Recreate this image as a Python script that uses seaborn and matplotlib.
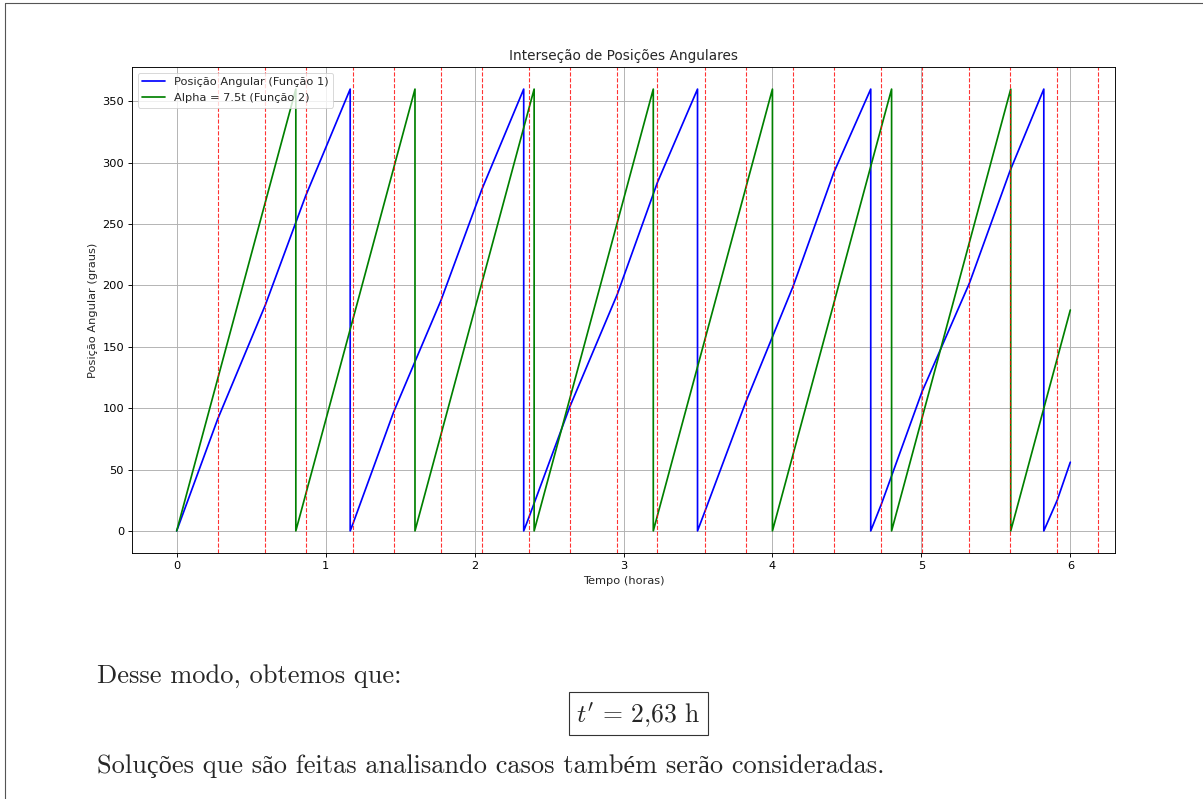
import pandas as pd
import matplotlib.pyplot as plt
import seaborn as sns
from matplotlib.lines import Line2D
from matplotlib.patches import Rectangle

# vértices (tempo em horas, posição em graus)
t_func1 = [0.0, 0.275, 0.595, 0.866, 1.165, 1.165, 1.184, 1.457, 1.775, 2.048, 2.330,
           2.330, 2.368, 2.639, 2.959, 3.228, 3.497, 3.497, 3.550, 3.821, 4.141, 4.412,
           4.660, 4.660, 4.732, 5.003, 5.323, 5.594, 5.822, 5.822, 5.912, 6.0]
y_func1 = [0, 91, 184, 273, 360, 0, 6, 97, 188, 278, 360,
           0, 12, 101, 193, 284, 360, 0, 17, 105, 200, 292,
           360, 0, 22, 113, 202, 293, 360, 0, 25, 56]

t_func2 = [0.0, 0.8, 0.8, 1.6, 1.6, 2.4, 2.4, 3.2, 3.2, 4.0, 4.0, 4.8, 4.8, 5.6, 5.6, 6.0]
y_func2 = [0, 360, 0, 360, 0, 360, 0, 360, 0, 360, 0, 360, 0, 360, 0, 180]

# linhas verticais vermelhas
t_inter = [0.275, 0.595, 0.866, 1.184, 1.457, 1.775, 2.048, 2.368, 2.639, 2.959, 3.228,
           3.550, 3.821, 4.141, 4.412, 4.732, 5.003, 5.323, 5.594, 5.912, 6.187]

label1 = 'Posição Angular (Função 1)'
label2 = 'Alpha = 7.5t (Função 2)'

df1 = pd.DataFrame({'t': t_func1, 'pos': y_func1})
df2 = pd.DataFrame({'t': t_func2, 'pos': y_func2})

s = 0.82  # escala da figura original
sns.set_style("ticks")
plt.rcParams['font.family'] = ['DejaVu Sans']
plt.rcParams['axes.edgecolor'] = 'black'
plt.rcParams['axes.linewidth'] = 0.8 * s
plt.rcParams['xtick.major.width'] = 0.8 * s
plt.rcParams['ytick.major.width'] = 0.8 * s
plt.rcParams['xtick.major.size'] = 3.5 * s
plt.rcParams['ytick.major.size'] = 3.5 * s
plt.rcParams['xtick.major.pad'] = 3.5 * s
plt.rcParams['ytick.major.pad'] = 3.5 * s
plt.rcParams['xtick.color'] = 'black'
plt.rcParams['ytick.color'] = 'black'
plt.rcParams['mathtext.fontset'] = 'cm'

W, H = 1203, 799
fig = plt.figure(figsize=(W / 100, H / 100), dpi=100)
ax = fig.add_axes([132 / W, 1 - 553 / H, (1115 - 132) / W, (553 - 67) / H])

sns.lineplot(data=df1, x='t', y='pos', sort=False, estimator=None, color='blue',
             linewidth=1.5 * s, label=label1, ax=ax)
sns.lineplot(data=df2, x='t', y='pos', sort=False, estimator=None, color='green',
             linewidth=1.5 * s, label=label2, ax=ax)
for t in t_inter:
    ax.axvline(t, color='red', linestyle='--', linewidth=0.8, alpha=0.8)

ax.set_xlim(-0.3, 6.3)
ax.set_ylim(-18, 378)
ax.set_xticks(range(0, 7))
ax.set_yticks(range(0, 351, 50))
ax.tick_params(labelsize=10 * s)
ax.grid(True, color='#b0b0b0', linewidth=0.8 * s)
ax.set_title('Interseção de Posições Angulares', fontsize=12 * s, pad=6 * s)
ax.set_xlabel('Tempo (horas)', fontsize=10 * s, labelpad=4 * s)
ax.set_ylabel('Posição Angular (graus)', fontsize=10 * s, labelpad=4 * s)
leg = ax.legend(loc='upper left', fontsize=10 * s, frameon=True)
leg.get_frame().set_linewidth(0.8 * s)
leg.get_frame().set_edgecolor('#cccccc')

# moldura da página
fig.add_artist(Line2D([5 / W, 5 / W], [0, 1 - 2.5 / H], color='#555555', linewidth=0.8))
fig.add_artist(Line2D([5 / W, 1], [1 - 2.5 / H, 1 - 2.5 / H], color='#555555', linewidth=0.8))

serif = ['cmr10', 'Liberation Serif']
fs = 19
fig.text(97 / W, 1 - 683.3 / H, 'Desse modo, obtemos que:', family=serif, fontsize=fs,
         va='baseline', ha='left')
fig.add_artist(Rectangle((569 / W, 1 - 735 / H), (708 - 569) / W, (735 - 692) / H,
                         transform=fig.transFigure, fill=False, edgecolor='#333333',
                         linewidth=0.8))
fig.text(638 / W, 1 - 721.7 / H, r"$t' \,=\, 2{,}63\ \mathrm{h}$", fontsize=fs - 0.5,
         va='baseline', ha='center')
fig.text(97 / W, 1 - 772.5 / H,
         'Soluções que são feitas analisando casos também serão consideradas.',
         family=serif, fontsize=fs, va='baseline', ha='left')

fig.savefig('out.png', dpi=100)
